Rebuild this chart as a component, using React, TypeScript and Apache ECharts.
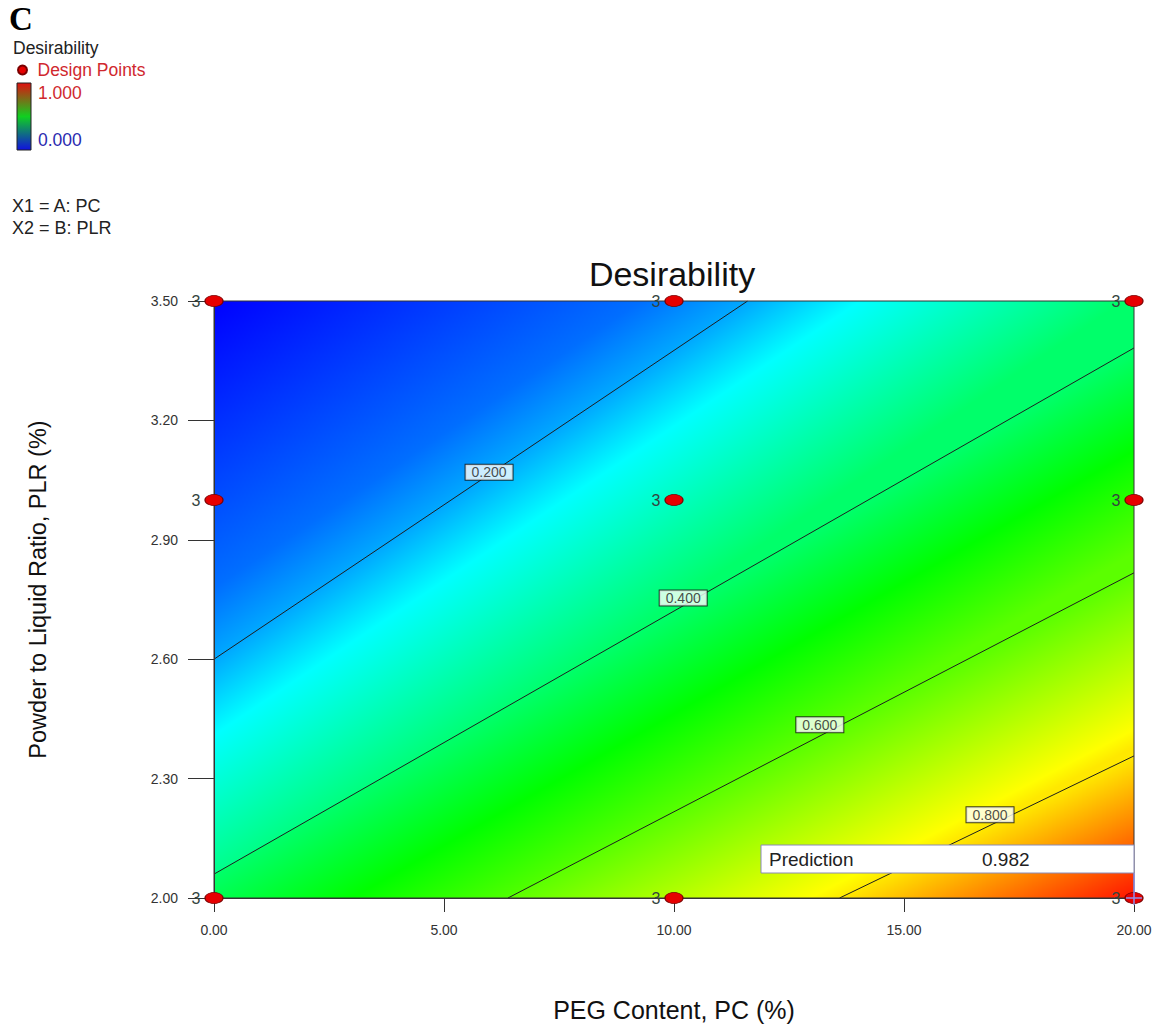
import React, { useEffect, useRef } from "react";
import * as echarts from "echarts";

// ---------- data ----------
// axes
const pcRange = [0, 20];
const pcInterval = 5;
const plrRange = [2.0, 3.5];
const plrInterval = 0.3;

// design points (PC %, PLR, replicates)
const designPC = [0, 0, 0, 10, 10, 10, 20, 20, 20];
const designPLR = [2.0, 3.0, 3.5, 2.0, 3.0, 3.5, 2.0, 3.0, 3.5];
const designReplicates = [3, 3, 3, 3, 3, 3, 3, 3, 3];

// contour lines of desirability (end points where they meet the frame)
const contourLevels = [0.2, 0.4, 0.6, 0.8];
const contourStartPC = [0, 0, 6.39, 13.6];
const contourStartPLR = [2.6, 2.06, 2.0, 2.0];
const contourEndPC = [11.6, 20, 20, 20];
const contourEndPLR = [3.5, 3.382, 2.817, 2.357];
// where each contour's value box sits
const contourLabelPC = [5.98, 10.2, 13.17, 16.87];
const contourLabelPLR = [3.07, 2.754, 2.435, 2.209];

// extremes of the response surface
const lowestPoint = [0, 3.5];
const lowestValue = 0.0;
const predictionPoint = [20, 2.0];
const predictionValue = 0.982;

// colour scale of the response (value -> colour)
const scaleValues = [0, 0.16, 0.26, 0.5, 0.78, 1];
const scaleColors = [
  [0, 0, 255],
  [0, 110, 255],
  [0, 255, 255],
  [0, 255, 0],
  [255, 255, 0],
  [255, 0, 0],
];

const FONT = 'Arial, "Liberation Sans", sans-serif';

function colorAt(v: number): string {
  let i = 0;
  while (i < scaleValues.length - 2 && v > scaleValues[i + 1]) i++;
  const t = Math.max(0, Math.min(1, (v - scaleValues[i]) / (scaleValues[i + 1] - scaleValues[i])));
  const a = scaleColors[i];
  const b = scaleColors[i + 1];
  const c = a.map((av, k) => Math.round(av + (b[k] - av) * t));
  return `rgb(${c[0]},${c[1]},${c[2]})`;
}

function stopsBetween(a: number, b: number) {
  const vals = [a, ...scaleValues.filter((s) => s > a && s < b), b];
  return vals.map((v) => ({ offset: (v - a) / (b - a), color: colorAt(v) }));
}

type Pt = number[];
const sub = (a: Pt, b: Pt) => [a[0] - b[0], a[1] - b[1]];
const dot = (a: Pt, b: Pt) => a[0] * b[0] + a[1] * b[1];
function unitNormal(p1: Pt, p2: Pt): Pt {
  const d = sub(p2, p1);
  const len = Math.hypot(d[0], d[1]);
  return [-d[1] / len, d[0] / len];
}
function clipHalf(poly: Pt[], p: Pt, n: Pt): Pt[] {
  const out: Pt[] = [];
  for (let i = 0; i < poly.length; i++) {
    const a = poly[i];
    const b = poly[(i + 1) % poly.length];
    const da = dot(sub(a, p), n);
    const db = dot(sub(b, p), n);
    if (da >= 0) out.push(a);
    if (da * db < 0) {
      const t = da / (da - db);
      out.push([a[0] + (b[0] - a[0]) * t, a[1] + (b[1] - a[1]) * t]);
    }
  }
  return out;
}

function renderField(_params: any, api: any) {
  const tl = api.coord([pcRange[0], plrRange[1]]);
  const br = api.coord([pcRange[1], plrRange[0]]);
  const rect: Pt[] = [
    [tl[0], tl[1]],
    [br[0], tl[1]],
    [br[0], br[1]],
    [tl[0], br[1]],
  ];
  const lines = contourLevels.map((_, i) => [
    api.coord([contourStartPC[i], contourStartPLR[i]]),
    api.coord([contourEndPC[i], contourEndPLR[i]]),
  ]);
  const normals = lines.map((l) => unitNormal(l[0], l[1]));
  const mids = lines.map((l) => [(l[0][0] + l[1][0]) / 2, (l[0][1] + l[1][1]) / 2]);
  const children: any[] = [];
  const low = api.coord(lowestPoint);
  const n0 = normals[0];
  const t0 = dot(sub(mids[0], low), n0);
  children.push({
    type: "polygon",
    shape: { points: rect },
    style: {
      fill: new echarts.graphic.LinearGradient(
        low[0], low[1], low[0] + n0[0] * t0, low[1] + n0[1] * t0,
        stopsBetween(lowestValue, contourLevels[0]), true
      ),
    },
  });
  const high = api.coord(predictionPoint);
  const last = contourLevels.length - 1;
  for (let i = 0; i <= last; i++) {
    const n = normals[i];
    const s = mids[i];
    let t: number;
    let top: number;
    if (i < last) {
      const m = normals[i + 1];
      t = dot(sub(lines[i + 1][0], s), m) / dot(n, m);
      top = contourLevels[i + 1];
    } else {
      t = dot(sub(high, s), n);
      top = predictionValue;
    }
    children.push({
      type: "polygon",
      shape: { points: clipHalf(rect, lines[i][0], n) },
      style: {
        fill: new echarts.graphic.LinearGradient(
          s[0], s[1], s[0] + n[0] * t, s[1] + n[1] * t,
          stopsBetween(contourLevels[i], top), true
        ),
      },
    });
  }
  return { type: "group", children };
}

function renderPrediction(_params: any, api: any) {
  const p = api.coord([api.value(0), api.value(1)]);
  const w = 373;
  const h = 28;
  const gap = 25;
  const x0 = p[0] - w;
  const y0 = p[1] - gap - h;
  return {
    type: "group",
    children: [
      { type: "line", shape: { x1: p[0], y1: y0 + h, x2: p[0], y2: p[1] + 7 }, style: { stroke: "#8f8fe8", lineWidth: 1.5 } },
      { type: "line", shape: { x1: p[0] - 8, y1: p[1], x2: p[0] + 8, y2: p[1] }, style: { stroke: "#8f8fe8", lineWidth: 1.5 } },
      { type: "rect", shape: { x: x0, y: y0, width: w, height: h }, style: { fill: "#ffffff", stroke: "#8a8ab8", lineWidth: 1 } },
      { type: "text", x: x0 + 8, y: y0 + h / 2, style: { text: "Prediction", fontSize: 19, fontFamily: FONT, fill: "#222", align: "left", verticalAlign: "middle" } },
      { type: "text", x: x0 + 221, y: y0 + h / 2, style: { text: Number(api.value(2)).toFixed(3), fontSize: 19, fontFamily: FONT, fill: "#222", align: "left", verticalAlign: "middle" } },
    ],
  };
}

export default function App() {
  const ref = useRef<HTMLDivElement>(null);
  useEffect(() => {
    if (!ref.current) return;
    const chart = echarts.init(ref.current, undefined, { renderer: "svg" });
    const option: any = {
      animation: false,
      backgroundColor: "#ffffff",
      title: {
        text: "Desirability",
        left: 672,
        top: 257,
        padding: 0,
        textAlign: "center",
        textStyle: { fontSize: 34, fontWeight: "normal", color: "#111", fontFamily: FONT },
      },
      legend: {
        data: ["Design Points"],
        left: 17,
        top: 61,
        padding: 0,
        itemWidth: 20,
        itemHeight: 9,
        itemGap: 5,
        icon: "circle",
        selectedMode: false,
        textStyle: { color: "#d0282e", fontSize: 17.5, fontFamily: FONT },
      },
      grid: {
        left: 214,
        top: 301,
        width: 920,
        height: 597,
        show: true,
        z: 10,
        backgroundColor: "transparent",
        borderColor: "#333",
        borderWidth: 1,
      },
      xAxis: {
        type: "value",
        min: pcRange[0],
        max: pcRange[1],
        interval: pcInterval,
        z: 10,
        name: "PEG Content, PC (%)",
        nameLocation: "middle",
        nameGap: 99,
        nameTextStyle: { fontSize: 25, color: "#111", fontFamily: FONT },
        axisLine: { show: true, lineStyle: { color: "#333", width: 1 } },
        axisTick: { show: true, length: 14, lineStyle: { color: "#333" } },
        axisLabel: { formatter: (v: number) => v.toFixed(2), fontSize: 14, color: "#333", margin: 25, fontFamily: FONT },
        splitLine: { show: false },
      },
      yAxis: {
        type: "value",
        min: plrRange[0],
        max: plrRange[1],
        interval: plrInterval,
        z: 10,
        name: "Powder to Liquid Ratio, PLR (%)",
        nameLocation: "middle",
        nameGap: 164,
        nameTextStyle: { fontSize: 23.5, color: "#111", fontFamily: FONT, padding: [0, 0, 0, 20] },
        axisLine: { show: true, lineStyle: { color: "#333", width: 1 } },
        axisTick: { show: true, length: 26, lineStyle: { color: "#333" } },
        axisLabel: { formatter: (v: number) => v.toFixed(2), fontSize: 14, color: "#333", margin: 36, fontFamily: FONT },
        splitLine: { show: false },
      },
      graphic: [
        { type: "text", x: 9, y: 19, style: { text: "C", font: 'bold 33px "Liberation Serif", "Times New Roman", serif', fill: "#000", verticalAlign: "middle" } },
        { type: "text", x: 13, y: 48, style: { text: "Desirability", fontSize: 17.5, fontFamily: FONT, fill: "#222", verticalAlign: "middle" } },
        {
          type: "rect",
          shape: { x: 17, y: 83, width: 14, height: 67 },
          style: {
            fill: new echarts.graphic.LinearGradient(0, 0, 0, 1, [
              { offset: 0, color: "#e01010" },
              { offset: 0.5, color: "#10d020" },
              { offset: 1, color: "#1010e0" },
            ]),
            stroke: "#222",
            lineWidth: 1,
          },
        },
        { type: "text", x: 38, y: 93, style: { text: "1.000", fontSize: 17.5, fontFamily: FONT, fill: "#d0282e", verticalAlign: "middle" } },
        { type: "text", x: 38, y: 140, style: { text: "0.000", fontSize: 17.5, fontFamily: FONT, fill: "#2a2ab0", verticalAlign: "middle" } },
        { type: "text", x: 12, y: 206, style: { text: "X1 = A: PC", fontSize: 18, fontFamily: FONT, fill: "#222", verticalAlign: "middle" } },
        { type: "text", x: 12, y: 228, style: { text: "X2 = B: PLR", fontSize: 18, fontFamily: FONT, fill: "#222", verticalAlign: "middle" } },
      ],
      series: [
        {
          type: "custom",
          name: "field",
          data: [[pcRange[0], plrRange[0]]],
          renderItem: renderField,
          silent: true,
          z: 1,
        },
        ...contourLevels.map((lv, i) => ({
          type: "line",
          name: "contour " + lv.toFixed(3),
          data: [
            [contourStartPC[i], contourStartPLR[i]],
            [contourEndPC[i], contourEndPLR[i]],
          ],
          symbol: "none",
          showSymbol: false,
          silent: true,
          lineStyle: { color: "#1e1e1e", width: 1 },
          z: 3,
        })),
        {
          type: "scatter",
          name: "contour labels",
          data: contourLevels.map((lv, i) => [contourLabelPC[i], contourLabelPLR[i], lv]),
          symbol: "rect",
          symbolSize: 1,
          itemStyle: { color: "rgba(0,0,0,0)" },
          silent: true,
          z: 12,
          label: {
            show: true,
            position: "inside",
            formatter: (p: any) => Number(p.value[2]).toFixed(3),
            backgroundColor: "#ffffff",
            borderColor: "#111",
            borderWidth: 1,
            padding: [1, 6, 0, 6],
            fontSize: 14,
            color: "#222",
            fontFamily: FONT,
          },
        },
        {
          type: "scatter",
          name: "Design Points",
          data: designPC.map((x, i) => [x, designPLR[i], designReplicates[i]]),
          symbol: "circle",
          symbolSize: [18, 11],
          clip: false,
          z: 20,
          itemStyle: { color: "#e60000", borderColor: "#7a0000", borderWidth: 1, opacity: 1 },
          label: {
            show: true,
            position: "left",
            distance: 4,
            formatter: (p: any) => String(p.value[2]),
            fontSize: 16,
            color: "#34443e",
            fontFamily: FONT,
          },
        },
        {
          type: "custom",
          name: "prediction",
          data: [[predictionPoint[0], predictionPoint[1], predictionValue]],
          renderItem: renderPrediction,
          silent: true,
          clip: false,
          z: 21,
        },
      ],
    };
    chart.setOption(option);
    return () => chart.dispose();
  }, []);
  return (
    <div
      ref={ref}
      style={{ position: "absolute", left: 0, top: 0, width: 1165, height: 1028 }}
    />
  );
}
